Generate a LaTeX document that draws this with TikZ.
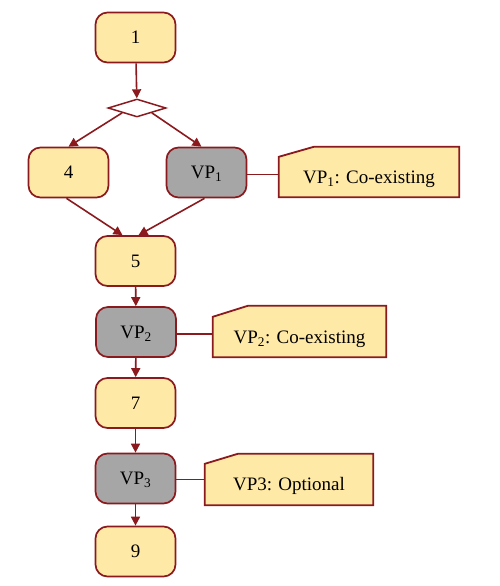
\documentclass[tikz,border=0pt]{standalone}
\usepackage{fontspec}
\setmainfont{Liberation Serif}
\usetikzlibrary{shapes.geometric,arrows.meta,calc,backgrounds}
\definecolor{edgered}{RGB}{139,26,30}
\definecolor{boxyellow}{RGB}{255,233,166}
\definecolor{boxgray}{RGB}{166,166,166}
\tikzset{
  box/.style={draw=edgered,line width=1.7pt,rounded corners=12pt,fill=boxyellow,
    minimum width=80pt,minimum height=50pt,inner sep=0pt,
    font=\fontsize{19}{22}\selectfont,text height=12.5pt,text depth=0pt},
  vpbox/.style={box,fill=boxgray},
  notetext/.style={inner sep=0pt,font=\fontsize{19}{22}\selectfont,text height=12.5pt,text depth=0pt},
  notebox/.style={draw=edgered,line width=1.8pt,fill=boxyellow},
  arr/.style={draw=edgered,line width=1.6pt,-{Triangle[length=9pt,width=9pt]}},
  link/.style={draw=edgered,line width=1.7pt},
}
\begin{document}
\begin{tikzpicture}[x=1pt,y=-1pt]
\useasboundingbox (0,0) rectangle (500,586);
% column nodes
\node[box] (n1) at (135.5,37.5) {1};
\node[draw=edgered,line width=1.5pt,fill=white,shape=diamond,inner sep=0pt,
      minimum width=58pt,minimum height=18pt] (d) at (137,108) {};
\node[box] (n4) at (68.5,172.5) {4};
\node[vpbox] (vp1) at (206.5,172.5) {VP\textsubscript{1}};
\node[box] (n5) at (135.5,261) {5};
\node[vpbox] (vp2) at (136,332) {VP\textsubscript{2}};
\node[box] (n7) at (135.5,403) {7};
\node[vpbox] (vp3) at (135.5,478.5) {VP\textsubscript{3}};
\node[box] (n9) at (135.5,551.5) {9};
% notes (text nodes in the part below the fold)
\node[notetext,minimum width=180pt,minimum height=40pt] (c1) at (369,177) {VP\textsubscript{1}: Co-existing};
\node[notetext,minimum width=173pt,minimum height=40pt] (c2) at (299.5,337) {VP\textsubscript{2}: Co-existing};
\node[notetext,minimum width=168pt,minimum height=41pt] (c3) at (289,484.5) {VP3: Optional};
% note shapes
\begin{scope}[on background layer]
\foreach \c/\fx/\fy in {c1/35/10,c2/35/11,c3/33/10}{
  \path[notebox] (\c.south west) -- (\c.north west)
     -- ($(\c.north west)+(\fx,-\fy)$) -- ($(\c.north east)+(0,-\fy)$)
     -- (\c.south east) -- cycle;
}
\end{scope}
% connectors
\draw[arr] (n1) -- (d);
\draw[arr] (d.south west) -- (n4.north);
\draw[arr] (d.south east) -- ([xshift=-5pt]vp1.north);
\draw[arr] ([xshift=-2pt]n4.south) -- ([xshift=-13pt]n5.north);
\draw[arr] ([xshift=-2pt]vp1.south) -- ([xshift=3pt]n5.north);
\draw[arr] (n5) -- (vp2);
\draw[arr] (vp2) -- (n7);
\draw[arr] (n7) -- (vp3);
\draw[arr] (vp3) -- (n9);
\draw[link] ([yshift=-2pt]vp1.east) -- ([yshift=-2pt]vp1.east -| c1.west);
\draw[link] ([yshift=-2pt]vp2.east) -- ([yshift=-2pt]vp2.east -| c2.west);
\draw[link] ([yshift=-1pt]vp3.east) -- ([yshift=-1pt]vp3.east -| c3.west);
\end{tikzpicture}
\end{document}
